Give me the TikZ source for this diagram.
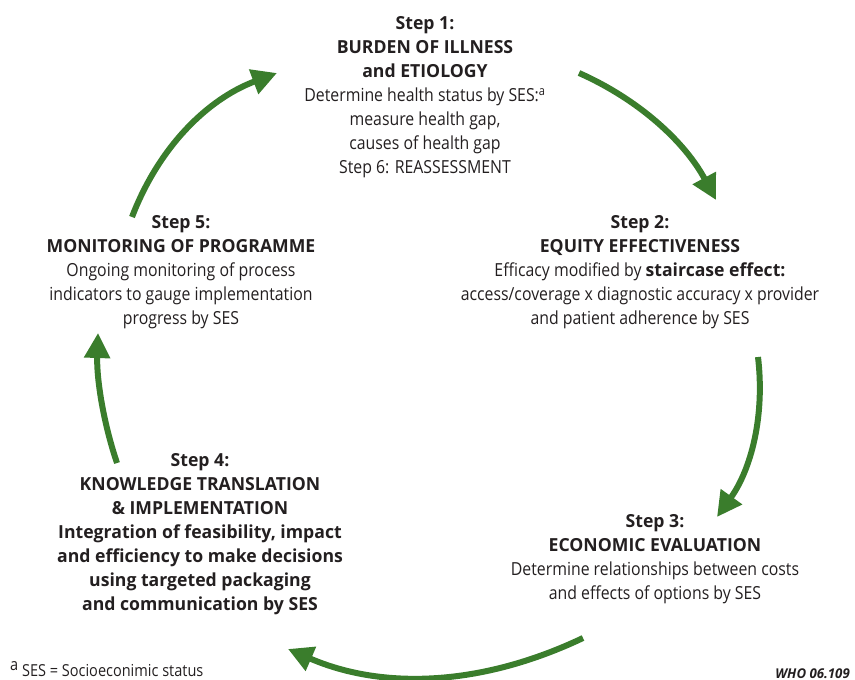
\documentclass[tikz,border=0pt]{standalone}
\usepackage{fontspec}
\setmainfont{Open Sans}[FakeStretch=0.88, BoldFeatures={FakeStretch=0.98}, BoldItalicFeatures={FakeStretch=0.98}]
\usetikzlibrary{arrows.meta}
\definecolor{arrgreen}{RGB}{58,125,44}
\definecolor{txt}{RGB}{35,31,32}
\begin{document}
\begin{tikzpicture}[x=1pt,y=-1pt,
  stepnode/.style={align=center, text=txt, font=\fontsize{18}{24}\selectfont, inner sep=0pt},
  cyc/.style={draw=arrgreen, line width=6pt, -{Triangle[length=25pt,width=25pt]}}]
\useasboundingbox (0,0) rectangle (855,680);

\node[stepnode] (s1) at (425,97) {\textbf{Step 1:}\\\textbf{BURDEN OF ILLNESS}\\\textbf{and ETIOLOGY}\\Determine health status by SES:\textsuperscript{a}\\measure health gap,\\causes of health gap\\Step 6: REASSESSMENT};
\node[stepnode] (s2) at (640,272) {\textbf{Step 2:}\\\textbf{EQUITY EFFECTIVENESS}\\Efficacy modified by \textbf{staircase effect:}\\access/coverage x diagnostic accuracy x provider\\and patient adherence by SES};
\node[stepnode] (s3) at (655,559) {\textbf{Step 3:}\\\textbf{ECONOMIC EVALUATION}\\Determine relationships between costs\\and effects of options by SES};
\node[stepnode, font=\bfseries\fontsize{18}{24}\selectfont] (s4) at (200,534) {Step 4:\\KNOWLEDGE TRANSLATION\\\& IMPLEMENTATION\\Integration of feasibility, impact\\and efficiency to make decisions\\using targeted packaging\\and communication by SES};
\node[stepnode] (s5) at (181,272) {\textbf{Step 5:}\\\textbf{MONITORING OF PROGRAMME}\\Ongoing monitoring of process\\indicators to gauge implementation\\progress by SES};

\node[anchor=base west, inner sep=0pt, text=txt, font=\fontsize{16.5}{18}\selectfont] (fn) at (10,676) {\raisebox{6pt}{a} SES = Socioeconimic status};
\node[anchor=base east, inner sep=0pt, text=txt, font=\bfseries\itshape\fontsize{13.5}{15}\selectfont] (who) at (850,678) {WHO 06.109};

\coordinate (a1s) at (579,73);  \coordinate (a1e) at (716,200);
\coordinate (a2s) at (758,357); \coordinate (a2e) at (717,517);
\coordinate (a3s) at (583,638); \coordinate (a3e) at (288,649);
\coordinate (a4s) at (117,463); \coordinate (a4e) at (98,333);
\coordinate (a5s) at (132,217); \coordinate (a5e) at (277,73);

\draw[cyc] (a1s) .. controls (639.2,99.7) and (684.9,142) .. (a1e);
\draw[cyc] (a2s) .. controls (765,415.7) and (751.3,469) .. (a2e);
\draw[cyc] (a3s) .. controls (481.3,686.3) and (383,690) .. (a3e);
\draw[cyc] (a4s) .. controls (102.8,420.9) and (96.5,377.5) .. (a4e);
\draw[cyc] (a5s) .. controls (158.7,147.3) and (207.1,99.3) .. (a5e);
\end{tikzpicture}
\end{document}
